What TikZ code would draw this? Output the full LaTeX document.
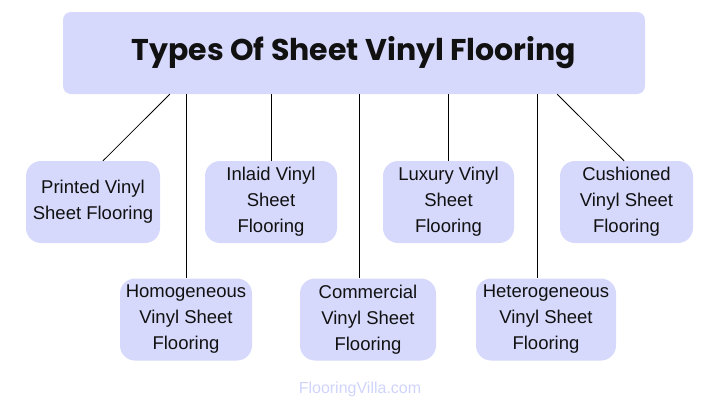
\documentclass[tikz,border=0pt]{standalone}
\usepackage{fontspec}
\setmainfont{Liberation Sans}
\newfontfamily\titlefont{Poppins}
\definecolor{boxfill}{HTML}{D6D9FC}
\definecolor{markcol}{HTML}{D0D4FB}
\definecolor{txt}{HTML}{111111}
\begin{document}
\begin{tikzpicture}[x=1pt,y=-1pt,
  leaf/.style={fill=boxfill,rounded corners=15pt,inner sep=0pt,align=center,
    text=txt,font=\fontsize{18.5}{26}\selectfont,minimum height=82pt},
  link/.style={draw=black,line width=0.8pt}]
\useasboundingbox (0,0) rectangle (720,400);
\node[fill=boxfill,rounded corners=8pt,minimum width=582pt,minimum height=82pt,inner sep=0pt,
  font=\titlefont\bfseries\fontsize{30}{36}\selectfont,text=txt] (title) at (354,53) {Types Of Sheet Vinyl Flooring};
\node[leaf,minimum width=134pt] (printed) at (93,202) {Printed Vinyl\\Sheet Flooring};
\node[leaf,minimum width=132pt] (homo) at (186,319.5) {Homogeneous\\Vinyl Sheet\\Flooring};
\node[leaf,minimum width=132pt] (inlaid) at (271,202) {Inlaid Vinyl\\Sheet\\Flooring};
\node[leaf,minimum width=136pt] (comm) at (368,319.5) {Commercial\\Vinyl Sheet\\Flooring};
\node[leaf,minimum width=131pt] (lux) at (448.5,202) {Luxury Vinyl\\Sheet\\Flooring};
\node[leaf,minimum width=140pt] (hetero) at (546,319.5) {Heterogeneous\\Vinyl Sheet\\Flooring};
\node[leaf,minimum width=133pt] (cush) at (626.5,202) {Cushioned\\Vinyl Sheet\\Flooring};
\node[text=markcol,font=\fontsize{16}{19}\selectfont] (mark) at (360,389) {FlooringVilla.com};
\draw[link] ([xshift=107pt]title.south west) -- ([xshift=10pt]printed.north);
\draw[link] (title.south -| homo.north) -- (homo.north);
\draw[link] (title.south -| inlaid.north) -- (inlaid.north);
\draw[link] (title.south -| 359,0) -- ([xshift=-9pt]comm.north);
\draw[link] (title.south -| lux.north) -- (lux.north);
\draw[link] (title.south -| 537,0) -- ([xshift=-9pt]hetero.north);
\draw[link] ([xshift=-88pt]title.south east) -- ([xshift=-2.5pt]cush.north);
\end{tikzpicture}
\end{document}
